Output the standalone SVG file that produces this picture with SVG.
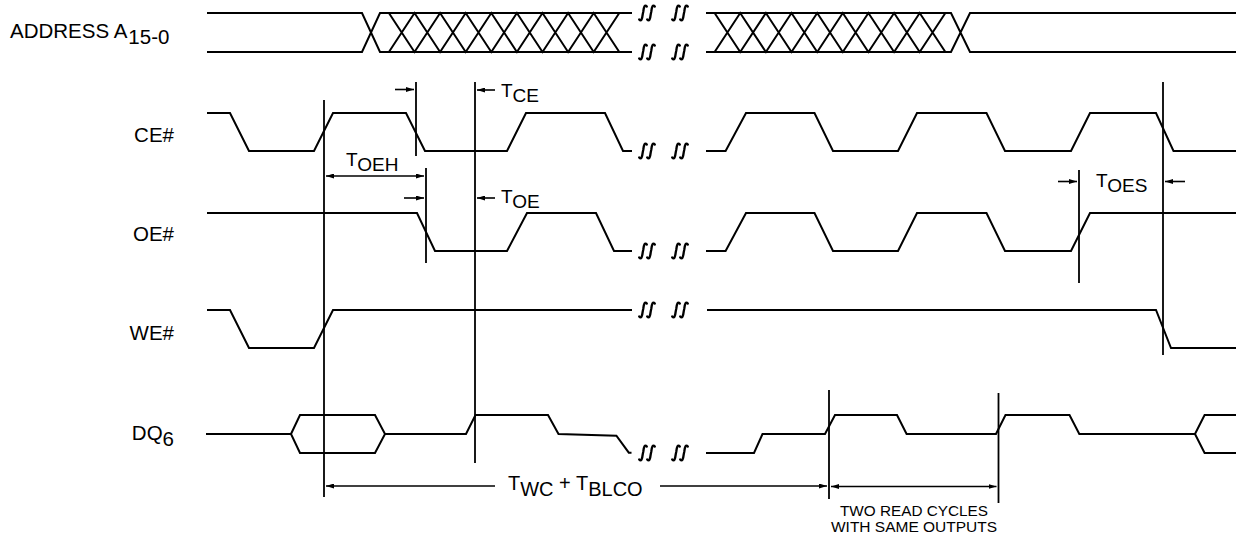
<svg xmlns="http://www.w3.org/2000/svg" width="1236" height="540" viewBox="0 0 1236 540">
<style>
.sig{fill:none;stroke:#000;stroke-width:2;stroke-linejoin:miter}
.vl{fill:none;stroke:#000;stroke-width:1.8}
.ar{fill:none;stroke:#000;stroke-width:1.6}
.brk{fill:none;stroke:#000;stroke-width:2.3;stroke-linecap:round}
.lbl{font-family:"Liberation Sans",Arial,Helvetica,sans-serif;font-size:20.5px;fill:#000}
.tm{font-family:"Liberation Sans",Arial,Helvetica,sans-serif;font-size:19px;fill:#000}
.tw{font-family:"Liberation Sans",Arial,Helvetica,sans-serif;font-size:20px;fill:#000}
.sm{font-family:"Liberation Sans",Arial,Helvetica,sans-serif;font-size:15px;fill:#000}
</style>
<defs>
<marker id="ah" viewBox="0 0 8 5" refX="8" refY="2.5" markerWidth="8" markerHeight="5" markerUnits="userSpaceOnUse" orient="auto-start-reverse"><path d="M0,0 L8,2.5 L0,5 z" fill="#000"/></marker>
<g id="bk"><path class="brk" d="M-3.8,6.5 C-1.8,9 -0.8,6 -0.3,1.5 L0.3,-1.5 C0.8,-6 1.8,-9 3.8,-6.5"/><path class="brk" d="M4.2,6.5 C6.2,9 7.2,6 7.7,1.5 L8.3,-1.5 C8.8,-6 9.8,-9 11.8,-6.5"/></g>
<g id="bk2"><use href="#bk" x="643"/><use href="#bk" x="676"/></g>
</defs>
<rect width="1236" height="540" fill="#fff"/>

<g id="labels">
<text class="lbl" x="10" y="38">ADDRESS A<tspan dx="1" dy="6">15-0</tspan></text>
<text class="lbl" x="174" y="142" text-anchor="end">CE#</text>
<text class="lbl" x="174" y="241" text-anchor="end">OE#</text>
<text class="lbl" x="174" y="340" text-anchor="end">WE#</text>
<text class="lbl" x="174" y="440" text-anchor="end">DQ<tspan dy="6">6</tspan></text>
</g>

<g id="address">
<path class="sig" d="M207,13 H362 L380,52 H632 M207,52 H362 L380,13 H632"/>
<path class="sig" d="M388.9,13 L414.5,52 L440.1,13 L465.7,52 L491.3,13 L516.9,52 L542.5,13 L568.1,52 L593.7,13 L619.3,52 M388.9,52 L414.5,13 L440.1,52 L465.7,13 L491.3,52 L516.9,13 L542.5,52 L568.1,13 L593.7,52 L619.3,13"/>
<use href="#bk2" y="13"/><use href="#bk2" y="52"/>
<path class="sig" d="M706,13 H951 L970,52 H1236 M706,52 H951 L970,13 H1236"/>
<path class="sig" d="M714.6,13 L740.2,52 L765.9,13 L791.5,52 L817.2,13 L842.8,52 L868.4,13 L894.1,52 L919.7,13 L945.4,52 M714.6,52 L740.2,13 L765.9,52 L791.5,13 L817.2,52 L842.8,13 L868.4,52 L894.1,13 L919.7,52 L945.4,13"/>
</g>

<g id="ce">
<path class="sig" d="M207,113 H230 L249,151 H314 L333,113 H406 L425,151 H507 L526,113 H605 L623,151 H632"/>
<use href="#bk2" y="151"/>
<path class="sig" d="M706,151 H725.6 L746,113 H814.5 L833,151 H898 L917,113 H986.5 L1005,151 H1071 L1090,113 H1156 L1173.5,151 H1236"/>
</g>

<g id="oe">
<path class="sig" d="M207,213 H417 L435,251 H507 L527,213 H596 L614,251 H632"/>
<use href="#bk2" y="251"/>
<path class="sig" d="M706,251 H725.6 L746,213 H814.5 L833,251 H898 L917,213 H986.5 L1005,251 H1071 L1090,213 H1236"/>
</g>

<g id="we">
<path class="sig" d="M207,310 H230 L249,348 H314 L333,310 H632"/>
<use href="#bk2" y="310"/>
<path class="sig" d="M707,310 H1156 L1171,348 H1236"/>
</g>

<g id="dq6">
<path class="sig" d="M206,434 H291"/>
<path class="sig" d="M291,434 L300,415 H375 L385,434 L375,453 H300 Z"/>
<path class="sig" d="M385,434 H466 L475.5,415 H548 L558.5,434 L616.4,435.7 L628.8,452.7 H631.5"/>
<use href="#bk2" y="453"/>
<path class="sig" d="M706,453 H754 L762.5,434 H825 L835,415 H897 L906.6,434 H996 L1005.5,415 H1069.5 L1079.3,434 H1195 L1204.6,415 H1236 M1195,434 L1204.6,453 H1236"/>
</g>

<g id="connectors">
<line class="vl" x1="324" y1="100" x2="324" y2="497"/>
<line class="vl" x1="475" y1="82" x2="475" y2="463"/>
<line class="vl" x1="416" y1="82" x2="416" y2="156"/>
<line class="vl" x1="426" y1="168" x2="426" y2="263"/>
<line class="vl" x1="1079" y1="170" x2="1079" y2="283"/>
<line class="vl" x1="1163" y1="82" x2="1163" y2="355"/>
<line class="vl" x1="829" y1="390" x2="829" y2="499"/>
<line class="vl" x1="998.5" y1="393" x2="998.5" y2="503"/>

<line class="ar" x1="395" y1="89.5" x2="414" y2="89.5" marker-end="url(#ah)"/>
<line class="ar" x1="495" y1="90" x2="477" y2="90" marker-end="url(#ah)"/>
<line class="ar" x1="326" y1="176" x2="424" y2="176" marker-start="url(#ah)" marker-end="url(#ah)"/>
<line class="ar" x1="404" y1="198" x2="424" y2="198" marker-end="url(#ah)"/>
<line class="ar" x1="495" y1="198" x2="477" y2="198" marker-end="url(#ah)"/>
<line class="ar" x1="1058" y1="181.5" x2="1077" y2="181.5" marker-end="url(#ah)"/>
<line class="ar" x1="1185" y1="181.5" x2="1165" y2="181.5" marker-end="url(#ah)"/>
<line class="ar" x1="495" y1="486" x2="326" y2="486" marker-end="url(#ah)"/>
<line class="ar" x1="660" y1="486" x2="827" y2="486" marker-end="url(#ah)"/>
<line class="ar" x1="831" y1="486.5" x2="996.5" y2="486.5" marker-start="url(#ah)" marker-end="url(#ah)"/>
</g>

<g id="timing-labels">
<text class="tm" x="501" y="97">T<tspan dy="5">CE</tspan></text>
<text class="tm" x="501" y="203">T<tspan dy="5">OE</tspan></text>
<text class="tm" x="346" y="166">T<tspan dy="5">OEH</tspan></text>
<text class="tm" x="1096" y="187">T<tspan dy="5">OES</tspan></text>
<text class="tw" x="508" y="490">T<tspan dy="6">WC</tspan><tspan dy="-6"> + T</tspan><tspan dy="6">BLCO</tspan></text>
<text class="sm" x="914" y="516" text-anchor="middle" textLength="148" lengthAdjust="spacingAndGlyphs">TWO READ CYCLES</text>
<text class="sm" x="914" y="532" text-anchor="middle" textLength="166" lengthAdjust="spacingAndGlyphs">WITH SAME OUTPUTS</text>
</g>
</svg>
